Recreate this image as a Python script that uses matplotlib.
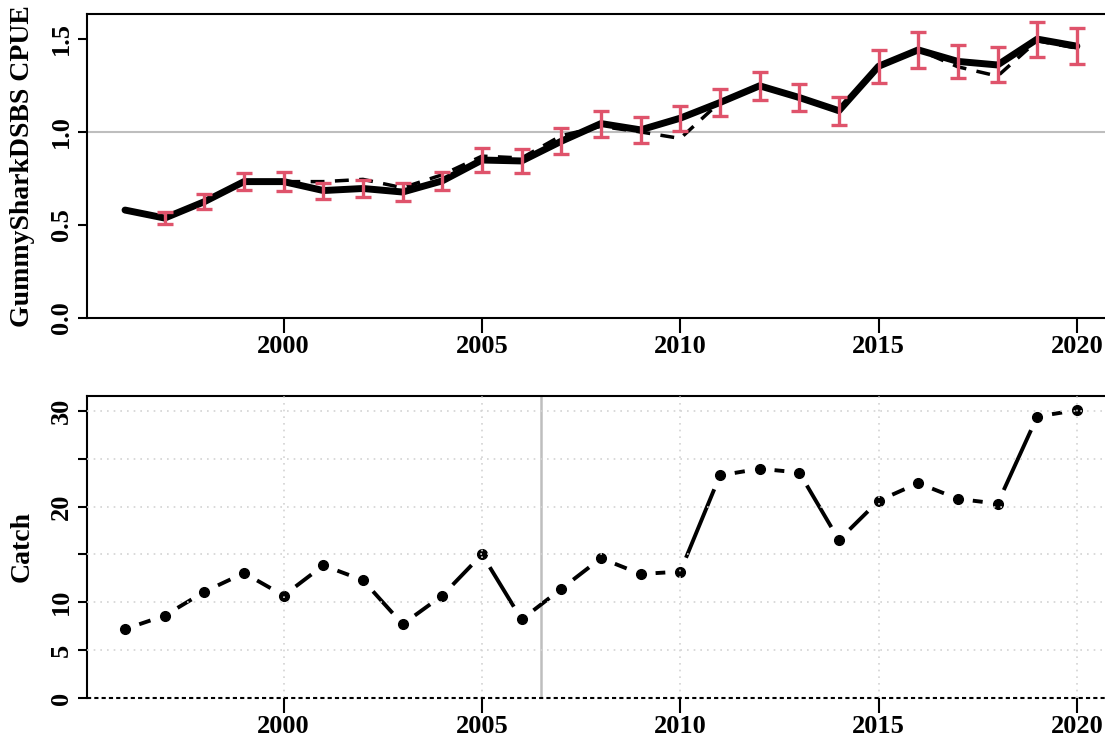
import numpy as np
import matplotlib
matplotlib.use("Agg")
import matplotlib.pyplot as plt

plt.rcParams['font.family'] = ['Liberation Serif', 'DejaVu Serif']
plt.rcParams['font.weight'] = 'bold'

# Index series and catch history
years = np.arange(1996, 2021)
cpue_fit = [0.58, 0.537, 0.625, 0.733, 0.733, 0.685, 0.696, 0.677, 0.737, 0.849,
            0.844, 0.95, 1.045, 1.011, 1.074, 1.158, 1.248, 1.185, 1.114, 1.353,
            1.441, 1.379, 1.36, 1.499, 1.461]
cpue_alt = [0.58, 0.537, 0.625, 0.733, 0.733, 0.733, 0.745, 0.70, 0.77, 0.87,
            0.86, 0.98, 1.03, 1.0, 0.965, 1.16, 1.248, 1.185, 1.114, 1.353,
            1.441, 1.35, 1.30, 1.49, 1.45]
cpue_se = [None, 0.032, 0.040, 0.045, 0.050, 0.043, 0.047, 0.047, 0.049, 0.063,
           0.063, 0.070, 0.070, 0.068, 0.067, 0.072, 0.076, 0.073, 0.076, 0.088,
           0.098, 0.090, 0.094, 0.094, 0.096]
catch = [7.2, 8.6, 11.1, 13.05, 10.7, 13.85, 12.3, 7.7, 10.7, 15.0,
         8.2, 11.4, 14.6, 12.95, 13.2, 23.25, 23.95, 23.55, 16.5, 20.6,
         22.45, 20.8, 20.3, 29.4, 30.07]

xticks = [2000, 2005, 2010, 2015, 2020]
cpue_ticks = [0.0, 0.5, 1.0, 1.5]
catch_ticks = [0, 5, 10, 15, 20, 25, 30]
catch_ticklabels = ['0', '5', '10', '', '20', '', '30']

red = '#DF536B'
fs = 19

fig = plt.figure(figsize=(11.05, 7.40), dpi=100)

# ---- top panel: CPUE index with error bars
ax1 = fig.add_axes([0.0787, 0.5703, 0.9303, 0.4108])
ax1.set_xlim(1995.04, 2020.96)
ax1.set_ylim(0, 1.634)
ax1.axhline(1.0, color='#BEBEBE', lw=1.5, zorder=1)
ax1.plot(years, cpue_alt, color='black', lw=2.5, ls=(0, (4, 3)), zorder=2)
ax1.plot(years, cpue_fit, color='black', lw=5, solid_capstyle='round',
         solid_joinstyle='round', zorder=3)
se_years = [y for y, s in zip(years, cpue_se) if s is not None]
se_vals = [v for v, s in zip(cpue_fit, cpue_se) if s is not None]
se_err = [s for s in cpue_se if s is not None]
ax1.errorbar(se_years, se_vals, yerr=se_err, fmt='none', ecolor=red,
             elinewidth=2.4, capsize=5.5, capthick=2.4, zorder=4)
ax1.set_xticks(xticks)
ax1.set_yticks(cpue_ticks)
ax1.set_yticklabels(['0.0', '0.5', '1.0', '1.5'])
ax1.set_ylabel('GummySharkDSBS CPUE', fontsize=fs + 1, fontweight='bold')
ax1.yaxis.set_label_coords(-0.051, 0.5)

# ---- bottom panel: catch
ax2 = fig.add_axes([0.0787, 0.0568, 0.9303, 0.4081])
ax2.set_xlim(1995.04, 2020.96)
ax2.set_ylim(0, 31.55)
for gx in xticks:
    ax2.axvline(gx, color='#D3D3D3', lw=1.2, ls=(0, (1, 3)), zorder=5)
for gy in catch_ticks[1:]:
    ax2.axhline(gy, color='#D3D3D3', lw=1.2, ls=(0, (1, 3)), zorder=5)
ax2.axvline(2006.5, color='#BEBEBE', lw=1.8, zorder=1)
ax2.axhline(0, color='black', lw=1.5, ls=(0, (2, 1.5)), zorder=6, clip_on=False)

# line segments with a gap around each point
gap = 15
pts = ax2.transData.transform(np.column_stack([years, catch]))
for p, q in zip(pts[:-1], pts[1:]):
    d = q - p
    n = np.hypot(*d)
    if n <= 2 * gap:
        continue
    u = d / n
    seg = ax2.transData.inverted().transform([p + u * gap, q - u * gap])
    ax2.plot(seg[:, 0], seg[:, 1], color='black', lw=2.8,
             solid_capstyle='butt', zorder=2)
ax2.plot(years, catch, 'o', color='black', ms=7, zorder=3)

ax2.set_xticks(xticks)
ax2.set_yticks(catch_ticks)
ax2.set_yticklabels(catch_ticklabels)
ax2.spines['bottom'].set_visible(False)
ax2.set_ylabel('Catch', fontsize=fs + 1, fontweight='bold')
ax2.yaxis.set_label_coords(-0.051, 0.5)

for ax in (ax1, ax2):
    ax.spines['right'].set_visible(False)
    for s in ('left', 'top', 'bottom'):
        ax.spines[s].set_linewidth(1.5)
    ax.tick_params(axis='x', length=11, width=1.5, pad=1, labelsize=fs)
    ax.tick_params(axis='y', length=6.5, width=1.5, pad=3.5, labelsize=fs,
                   labelrotation=90)
    for lab in ax.get_yticklabels():
        lab.set_verticalalignment('center')
    for lab in ax.get_xticklabels() + ax.get_yticklabels():
        lab.set_fontweight('bold')

fig.savefig('out.png', dpi=100)
